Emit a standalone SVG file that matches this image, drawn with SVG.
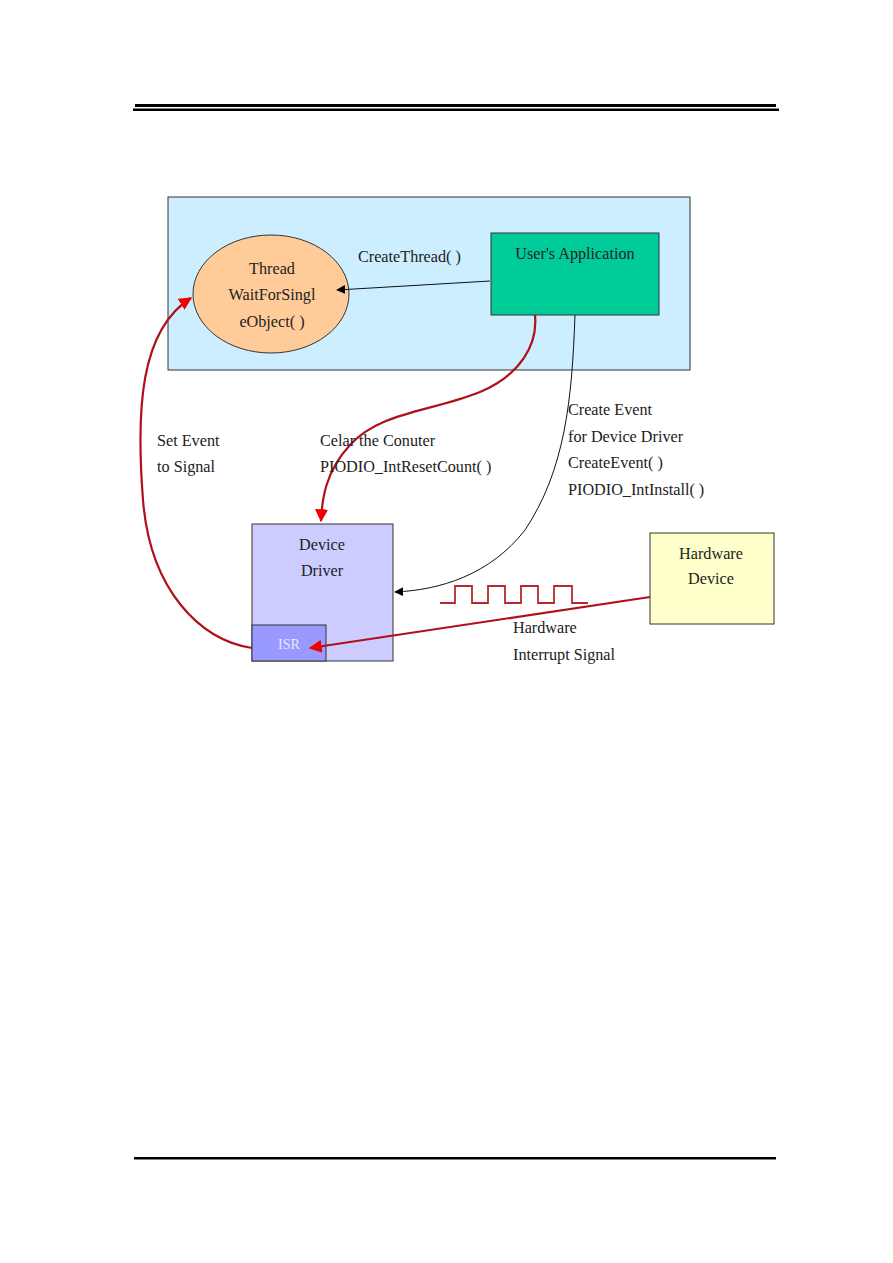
<svg xmlns="http://www.w3.org/2000/svg" width="893" height="1263" viewBox="0 0 893 1263">
<defs>
<style>
text{font-family:"Liberation Serif","Times New Roman",serif;font-size:16.2px;fill:#222}
.c{text-anchor:middle}
.box{stroke:#333;stroke-width:1}
.red{fill:none;stroke:#B0101A;stroke-width:2.2}
.blk{fill:none;stroke:#111;stroke-width:1}
</style>
<marker id="ab" viewBox="0 0 10 10" refX="9" refY="5" markerWidth="9" markerHeight="9" orient="auto" markerUnits="userSpaceOnUse"><path d="M0,0 L10,5 L0,10 z" fill="#000"/></marker>
<marker id="ar" viewBox="0 0 10 10" refX="9" refY="5" markerWidth="13" markerHeight="13" orient="auto" markerUnits="userSpaceOnUse"><path d="M0,0 L10,5 L0,10 z" fill="#F00000"/></marker>
</defs>
<rect width="893" height="1263" fill="#fff"/>
<g id="header">
<rect x="135" y="104" width="641" height="3" fill="#000"/>
<rect x="133" y="108.5" width="646" height="2.5" fill="#000"/>
<rect x="134" y="1157" width="642" height="2.5" fill="#000"/>
</g>
<g id="app-area"><rect class="box" x="168" y="197" width="522" height="173" fill="#CCEEFF"/></g>
<g id="thread">
<ellipse class="box" cx="271" cy="294" rx="78" ry="59" fill="#FFCC99"/>
<text class="c" x="272" y="274">Thread</text>
<text class="c" x="272" y="300">WaitForSingl</text>
<text class="c" x="272" y="327">eObject( )</text>
</g>
<g id="user-app">
<rect class="box" x="491" y="233" width="168" height="82" fill="#00CC99"/>
<text class="c" x="575" y="259">User's Application</text>
</g>
<g id="device-driver">
<rect class="box" x="252" y="524" width="141" height="137" fill="#CCCCFF"/>
<text class="c" x="322" y="550">Device</text>
<text class="c" x="322" y="576">Driver</text>
</g>
<g id="isr">
<rect class="box" x="252" y="625" width="74" height="36" fill="#9999FF"/>
<text class="c" x="289" y="649" style="fill:#E8E8FF;font-size:14px">ISR</text>
</g>
<g id="hardware-device">
<rect class="box" x="650" y="533" width="124" height="91" fill="#FFFFCC"/>
<text class="c" x="711" y="559">Hardware</text>
<text class="c" x="711" y="584">Device</text>
</g>
<g id="connectors">
<path class="blk" d="M490,281 L337,290" marker-end="url(#ab)"/>
<path class="blk" d="M575,315 C572,400 565,470 525,530 C490,575 440,590 395,592" marker-end="url(#ab)"/>
<path class="red" d="M535,315 C538,345 520,375 480,392 C430,412 380,412 350,445 C325,472 322,500 321,521" marker-end="url(#ar)"/>
<path class="red" d="M252,648 C200,640 150,590 143,500 C136,410 140,330 191,298" marker-end="url(#ar)"/>
<path class="red" d="M650,597 L310,648" marker-end="url(#ar)"/>
<path fill="none" stroke="#B82828" stroke-width="1.8" d="M440,603 H455 V586 H472 V603 H488 V586 H505 V603 H521 V586 H538 V603 H554 V586 H572 V603 H588"/>
</g>
<g id="labels">
<text x="358" y="262">CreateThread( )</text>
<text x="157" y="446">Set Event</text>
<text x="157" y="472">to Signal</text>
<text x="320" y="446">Celar the Conuter</text>
<text x="320" y="472">PIODIO_IntResetCount( )</text>
<text x="568" y="415">Create Event</text>
<text x="568" y="442">for Device Driver</text>
<text x="568" y="468">CreateEvent( )</text>
<text x="568" y="495">PIODIO_IntInstall( )</text>
<text x="513" y="633">Hardware</text>
<text x="513" y="660">Interrupt Signal</text>
</g>
</svg>
